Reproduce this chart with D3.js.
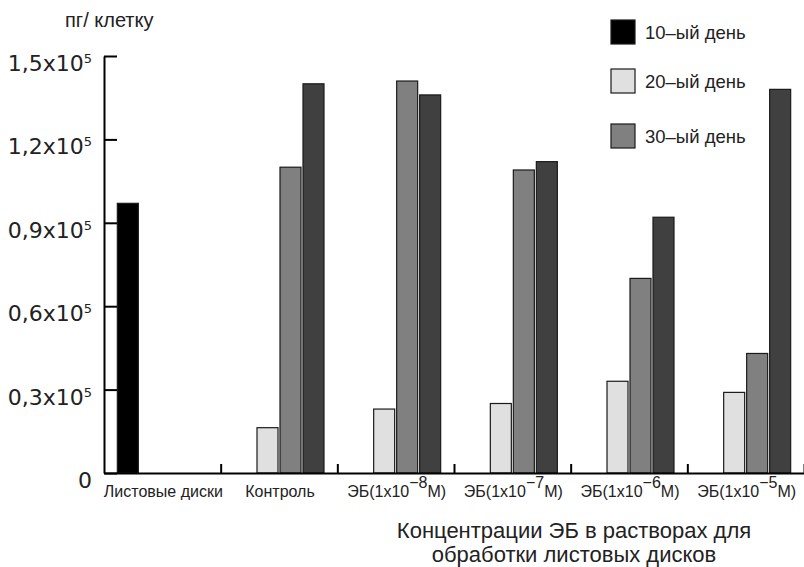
<!DOCTYPE html>
<html>
<head>
<meta charset="utf-8">
<script src="https://cdn.jsdelivr.net/npm/d3@7/dist/d3.min.js"></script>
<style>
  body { margin: 0; background: #fff; }
  svg { display: block; }
  text { fill: #222; }
</style>
</head>
<body>
<svg id="chart" width="804" height="567"></svg>
<script>
// Categories along the x axis ("^" marks a superscript exponent)
const categories = [
  "Листовые диски",
  "Контроль",
  "ЭБ(1x10^−8^M)",
  "ЭБ(1x10^−7^M)",
  "ЭБ(1x10^−6^M)",
  "ЭБ(1x10^−5^M)"
];

// Content, pg per cell
const day10 = [97000, null, null, null, null, null];
const day20 = [null, 16300, 23000, 25000, 33000, 29000];
const day30 = [null, 110000, 141000, 109000, 70000, 43000];
const day40 = [null, 140000, 136000, 112000, 92000, 138000];

const seriesKeys = ["d10", "d20", "d30", "d40"];
const seriesValues = [day10, day20, day30, day40];
const seriesColors = ["#000000", "#e0e0e0", "#808080", "#404040"];
const legendLabels = ["10–ый день", "20–ый день", "30–ый день"];

// y ticks: mantissa of x10^5
const yTickValues = [0, 30000, 60000, 90000, 120000, 150000];
const yTickMantissa = ["0", "0,3", "0,6", "0,9", "1,2", "1,5"];

const yAxisTitle = "пг/ клетку";
const xAxisTitle = ["Концентрации ЭБ в растворах для", "обработки листовых дисков"];

// ---- layout ----
const plotLeft = 104, plotRight = 804, plotTop = 56, plotBottom = 473;
const svg = d3.select("#chart");
const font = "'Liberation Sans', Arial, sans-serif";

const x0 = d3.scaleBand().domain(categories).range([plotLeft, plotRight]).paddingInner(0).paddingOuter(0);
const x1 = d3.scaleBand().domain(seriesKeys).range([0, x0.bandwidth()])
  .paddingInner(2 / 23).paddingOuter(0.58);
const y = d3.scaleLinear().domain([0, 150000]).range([plotBottom, plotTop]);

// bars
const rows = categories.map((c, i) => ({
  cat: c,
  vals: seriesKeys.map((k, s) => ({ key: k, v: seriesValues[s][i], color: seriesColors[s] }))
}));

const groups = svg.append("g").selectAll("g").data(rows).join("g")
  .attr("transform", d => `translate(${x0(d.cat)},0)`);

groups.selectAll("rect").data(d => d.vals.filter(v => v.v != null)).join("rect")
  .attr("x", d => x1(d.key))
  .attr("width", x1.bandwidth())
  .attr("y", d => y(d.v))
  .attr("height", d => y(0) - y(d.v))
  .attr("fill", d => d.color)
  .attr("stroke", "#1a1a1a")
  .attr("stroke-width", 1.2);

// y axis with inward ticks
const yAxis = d3.axisRight(y).tickValues(yTickValues).tickSize(13).tickSizeOuter(0).tickFormat("");
const gy = svg.append("g").attr("transform", `translate(${plotLeft},0)`).call(yAxis);
gy.select(".domain").attr("stroke", "#000").attr("stroke-width", 2);
gy.selectAll(".tick line").attr("stroke", "#000").attr("stroke-width", 2);

// y tick labels with superscript exponent
yTickValues.forEach((v, i) => {
  const t = svg.append("text")
    .attr("x", 92).attr("y", y(v) + 15)
    .attr("text-anchor", "end")
    .attr("font-family", "'DejaVu Sans', sans-serif")
    .attr("font-size", 22);
  if (v === 0) {
    t.text(yTickMantissa[i]);
  } else {
    t.append("tspan").text(yTickMantissa[i] + "x10");
    t.append("tspan").attr("dy", -8).attr("font-size", 13).text("5");
  }
});

// x axis: baseline with short upward ticks between groups
const xb = d3.scaleLinear().domain([0, categories.length]).range([plotLeft, plotRight]);
const xAxis = d3.axisTop(xb).tickValues(d3.range(1, categories.length + 1)).tickSize(9).tickSizeOuter(0).tickFormat("");
const gx = svg.append("g").attr("transform", `translate(0,${plotBottom})`).call(xAxis);
gx.select(".domain").attr("stroke", "#000").attr("stroke-width", 2);
gx.selectAll(".tick line").attr("stroke", "#000").attr("stroke-width", 2);

// category labels
categories.forEach(c => {
  const parts = c.split("^");
  const t = svg.append("text")
    .attr("x", x0(c) + x0.bandwidth() / 2 + 1)
    .attr("y", 497)
    .attr("text-anchor", "middle")
    .attr("font-family", font)
    .attr("font-size", 16);
  if (parts.length === 1) {
    t.text(c);
  } else {
    t.append("tspan").text(parts[0]);
    t.append("tspan").attr("dy", -9).attr("font-size", 16).text(parts[1]);
    t.append("tspan").attr("dy", 9).text(parts[2]);
  }
});

// axis titles
svg.append("text")
  .attr("x", 65).attr("y", 27)
  .attr("font-family", font).attr("font-size", 20)
  .text(yAxisTitle);

const xt = svg.append("text")
  .attr("x", 574).attr("y", 538)
  .attr("text-anchor", "middle")
  .attr("font-family", font).attr("font-size", 22);
xAxisTitle.forEach((line, i) => {
  xt.append("tspan").attr("x", 574).attr("dy", i === 0 ? 0 : 24).text(line);
});

// legend
const legendY = [20, 69, 124];
legendLabels.forEach((lab, i) => {
  svg.append("rect")
    .attr("x", 611).attr("y", legendY[i])
    .attr("width", 24).attr("height", 24)
    .attr("fill", seriesColors[i])
    .attr("stroke", "#1a1a1a").attr("stroke-width", 1.2);
  svg.append("text")
    .attr("x", 645).attr("y", legendY[i] + 19)
    .attr("font-family", font).attr("font-size", 18.5)
    .text(lab);
});
</script>
</body>
</html>
